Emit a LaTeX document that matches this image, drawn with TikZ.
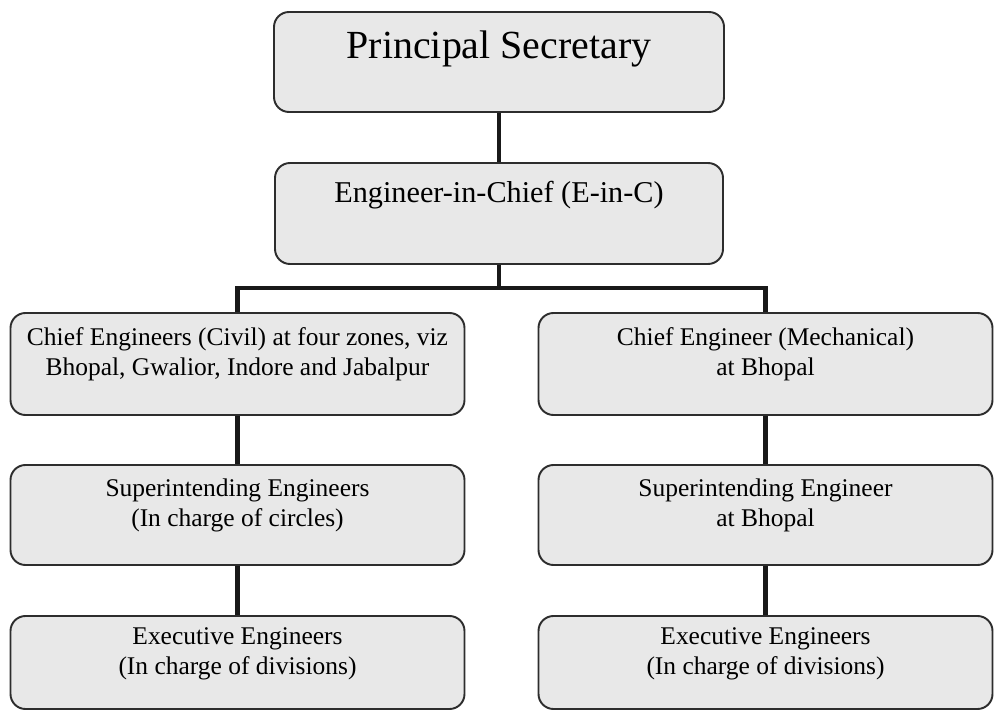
\documentclass[tikz,border=0pt]{standalone}
\usepackage{fontspec}
\setmainfont{Liberation Serif}
\definecolor{boxgray}{RGB}{232,232,232}
\definecolor{edgegray}{RGB}{45,45,45}
\definecolor{linkblack}{RGB}{25,25,25}

\tikzset{
	post/.style={draw=edgegray, line width=1.1pt, fill=boxgray, rounded corners=0.3cm,
		minimum width=9.08cm, minimum height=2cm, inner sep=0.1cm, align=center,
		text height=0.97cm, text depth=0.51cm, font=\fontsize{14.5}{17}\selectfont},
	link/.style={line width=2.8pt, linkblack},
}

\begin{document}
\begin{tikzpicture}
	\useasboundingbox (0,0) rectangle (19.88,14.22);

	% Top of the chart.
	\node[post, minimum width=9cm, text height=0.6cm, text depth=0.72cm,
		font=\fontsize{22.7}{26}\selectfont] (ps) at (9.98,12.98) {Principal Secretary};
	\node[post, minimum width=8.96cm, minimum height=2.02cm, text height=0.45cm, text depth=0.87cm,
		font=\fontsize{17.2}{20}\selectfont] (eic) at (9.98,9.95) {Engineer-in-Chief (E-in-C)};

	% Civil branch.
	\node[post, minimum height=2.04cm] (cecivil) at (4.75,6.94) {Chief Engineers (Civil) at four zones, viz\\Bhopal, Gwalior, Indore and Jabalpur};
	\node[post] (secivil) at (4.75,3.92) {Superintending Engineers\\(In charge of circles)};
	\node[post, minimum height=1.86cm] (eecivil) at (4.75,0.97) {Executive Engineers\\(In charge of divisions)};

	% Mechanical branch.
	\node[post, minimum height=2.04cm] (cemech) at (15.31,6.94) {Chief Engineer (Mechanical)\\at Bhopal};
	\node[post] (semech) at (15.31,3.92) {Superintending Engineer\\at Bhopal};
	\node[post, minimum height=1.86cm] (eemech) at (15.31,0.97) {Executive Engineers\\(In charge of divisions)};

	% Split bar under the E-in-C.
	\coordinate (barL) at (4.75,8.46);
	\coordinate (barR) at (15.31,8.46);

	\draw[link] (ps) -- (eic);
	\draw[link] (eic) -- (eic |- barL);
	\draw[link] (cecivil) -- (barL) -- (barR) -- (cemech);

	% Down each branch.
	\foreach \a/\b in {cecivil/secivil, secivil/eecivil, cemech/semech, semech/eemech} {
		\draw[link] (\a) -- (\b);
	}

\end{tikzpicture}
\end{document}
